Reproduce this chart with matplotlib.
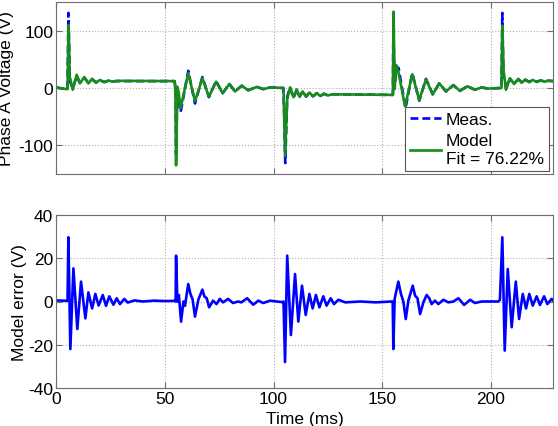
import matplotlib
matplotlib.use("Agg")
import matplotlib.pyplot as plt

plt.rcParams['font.family'] = ['Liberation Sans', 'DejaVu Sans']
plt.rcParams['axes.unicode_minus'] = False

# ---- data ----
model_t = [0, 3, 5.3, 5.8, 6.3, 7.7, 9.5, 11.0, 13.0, 14.9, 16.6, 18.4, 20.2, 22.2, 24.1, 26.0, 28.0,
           54.5, 54.9, 55.2, 55.8, 56.4, 57.3, 60.8, 63.9, 67.3, 70.3, 73.6, 76.6, 79.7, 82.3, 85.4, 88.4,
           92.3, 95.3, 98.4, 104.6, 105.3, 106.3, 107.6, 109.2, 110.7, 112.0, 113.4, 115.0, 116.5, 118.2,
           119.9, 121.5, 123.2, 125.0, 127.0, 154.9, 155.2, 155.7, 156.4, 157.3, 160.5, 163.8, 167.0,
           170.1, 173.2, 176.2, 179.3, 182.7, 185.7, 189.1, 192.6, 195.7, 198.5, 204.8, 205.2, 205.8,
           206.9, 208.7, 210.6, 212.6, 214.1, 215.8, 217.5, 219.2, 221.0, 222.8, 224.6, 226.4, 228.5]
model_v = [1, -1, -2, 110, 20, -3, 23, 8, 19, 8, 16, 9, 14, 10, 13, 11, 12.5,
           12, -5, -135, 2, -8, -35, 26, -23, 17, -15, 11, -9, 7, -6, 4, -4,
           2, -2, 1, 0, -119, -20, 1, -16, -3, -15, -6, -15, -8, -14.5,
           -9, -14, -10, -13, -11, -12, 133, -2, 40, 30, -32, 24, -21,
           15, -11, 8, -6, 5, -5, 3, -3, 1, -1, 0, 109, 30,
           -3, 17, 7, 16, 9, 15, 10, 14, 10.5, 13.5, 11, 13, 12]

meas_t = [0, 3, 5.3, 5.7, 6.4, 7.7, 9.5, 11.0, 13.0, 14.9, 16.6, 18.4, 20.2, 22.2, 24.1, 26.0, 28.0,
          54.5, 55.0, 55.2, 55.8, 57.3, 60.8, 63.9, 67.3, 70.3, 73.6, 76.6, 79.7, 82.3, 85.4, 88.4,
          92.3, 95.3, 98.4, 104.5, 104.9, 105.4, 106.3, 107.6, 109.2, 110.7, 112.0, 113.4, 115.0, 116.5,
          118.2, 119.9, 121.5, 123.2, 125.0, 127.0, 154.9, 155.1, 155.7, 156.5, 157.5, 160.7, 163.8,
          167.0, 170.1, 173.2, 176.2, 179.3, 182.7, 185.7, 189.1, 192.6, 195.7, 198.5, 204.8, 205.2,
          205.7, 206.5, 206.9, 208.7, 210.6, 212.6, 214.1, 215.8, 217.5, 219.2, 221.0, 222.8, 224.6,
          226.4, 228.5]
meas_v = [1, -1, -2, 131, 12, -1, 21, 9, 18, 9, 15, 10, 13.5, 10.5, 12.5, 11.5, 12,
          12, 0, -115, 0, -42, 30, -27, 19, -16, 12, -9, 7, -6, 4, -4,
          2, -2, 1, 0, -40, -131, -15, 1, -17, -3, -15, -6, -15, -8,
          -14.5, -9, -14, -10, -13, -11, -12, 111, 0, 36, 35, -35, 26,
          -22, 16, -11, 8, -6, 5, -5, 3, -3, 1, -1, 0, 131,
          15, 12, 0, 16, 8, 15, 10, 14, 11, 13.5, 11, 13, 11.5,
          12.5, 12]

err_t = [0, 5.3, 5.7, 6.6, 8.0, 9.8, 11.5, 13.5, 14.9, 16.6, 18.1, 19.6, 21.5, 23.0, 24.5, 26.4, 27.9,
         29.4, 31.4, 33.0, 36.0, 40.0, 45.0, 50.0, 54.4,
         55.0, 55.2, 55.8, 56.5, 57.5, 58.6, 59.3, 60.8, 61.8, 62.8, 63.9, 65.5, 67.3, 68.2, 69.3, 70.4,
         72.2, 73.8, 75.3, 76.8, 79.1, 81.4, 83.7, 85.2, 87.9, 90.7, 93.0, 95.3, 98.4, 101.5, 104.2,
         104.6, 105.3, 106.3, 108.0, 109.9, 111.4, 113.1, 114.8, 116.5, 118.0, 119.5, 121.1, 122.9,
         124.4, 126.3, 127.8, 129.8, 133.0, 140.0, 147.0, 154.3,
         154.8, 155.1, 155.7, 157.4, 158.6, 159.7, 160.8, 162.0, 164.0, 165.1, 166.2, 167.4, 168.9,
         170.4, 171.6, 172.7, 174.2, 175.8, 178.1, 180.4, 182.7, 185.0, 187.6, 190.4, 192.6, 195.7,
         199.5, 203.4, 204.1,
         205.2, 206.3, 207.7, 209.5, 211.4, 212.9, 214.6, 216.1, 217.6, 219.2, 221.0, 222.5, 224.4,
         225.9, 227.9, 228.5]
err_v = [0.5, 0.3, 29.7, -22, 15.3, -12.7, 9.2, -7.8, 4.2, -3.2, 3.5, -1.9, 3, -2, 2.4, -1.5, 1.5,
         -1.2, 1.2, -0.5, 0.5, 0, 0.4, 0.2, 0.3,
         0, 21.2, 0, 3, -9.3, 0, -2, 8.1, 3.5, 1, -7, 1, 5.5, 2.4, 1.5, -2.7,
         0.4, -1.2, 1.2, -0.4, 1.2, -0.7, 0, -0.4, 1.5, -1.5, 0.4, -0.7, 0.4, 0, -0.3,
         0, -28, 21.2, -15.5, 12.7, -9.3, 7.3, -6.2, 3.5, -3.2, 3, -2.7, 2.4,
         -1.9, 1.5, -1.2, 0.8, -0.4, 0, -0.4, 0,
         0, -22, 1.2, 9.2, 3.5, 0, -8.1, 0.4, 7.3, 2.7, 1.5, -5.8, -0.4,
         3, 1.5, -1.2, 0.4, -1.2, 0.8, -0.4, 0, 1.5, -1.6, 0.8, -0.7, 0,
         0, 0, 0.8,
         29.7, -22.7, 15, -11.9, 9.2, -8.1, 3.5, -3.2, 3.5, -1.9, 2.4, -1.6, 2.4,
         -1.2, 1.2, 0.5]

fit_pct = 76.22
x_ticks = [0, 50, 100, 150, 200]
top_yticks = [-100, 0, 100]
bot_yticks = [-40, -20, 0, 20, 40]

# ---- figure ----
fig = plt.figure(figsize=(5.58, 4.27), dpi=100)
ax1 = fig.add_axes([56/558, 1 - 175/427, 497/558, 172/427])
ax2 = fig.add_axes([56/558, 1 - 389/427, 497/558, 173/427])

blue = '#0000ff'
green = '#178c17'
edge = '#6e6e6e'

ax1.plot(meas_t, meas_v, linestyle='--', color=blue, linewidth=1.9, dashes=(3, 1.5), label='Meas.')
ax1.plot(model_t, model_v, linestyle='-', color=green, linewidth=1.9,
         label='Model\nFit = %.2f%%' % fit_pct)
ax2.plot(err_t, err_v, color=blue, linewidth=1.9)

ax1.set_xlim(0, 228.5)
ax2.set_xlim(0, 228.5)
ax1.set_ylim(-150, 150)
ax2.set_ylim(-40, 40)
ax1.set_yticks(top_yticks)
ax2.set_yticks(bot_yticks)
for ax in (ax1, ax2):
    ax.set_xticks(x_ticks)
    ax.grid(True, linestyle=':', color='#b0b0b0', linewidth=0.8)
    ax.tick_params(direction='in', top=True, right=True, labelsize=12.5, length=4,
                   color=edge, pad=2)
    for s in ax.spines.values():
        s.set_color(edge)
        s.set_linewidth(0.8)
ax1.set_xticklabels([])

ax1.set_ylabel('Phase A Voltage (V)', fontsize=12.5)
ax2.set_ylabel('Model error (V)', fontsize=12.5)
ax2.set_xlabel('Time (ms)', fontsize=12.5)
ax1.yaxis.set_label_coords((14 - 56) / 497, 0.5)
ax2.yaxis.set_label_coords((27 - 56) / 497, 0.5)
ax2.xaxis.set_label_coords(0.5, (389 - 412) / 173)

leg = ax1.legend(loc='lower right', bbox_to_anchor=((549 - 56) / 497, 3 / 172),
                 fontsize=12.5, frameon=True, fancybox=False, framealpha=1,
                 edgecolor='#555555', handlelength=1.75, handletextpad=0.3,
                 labelspacing=0.35, borderpad=0.3, borderaxespad=0)
leg.get_frame().set_linewidth(0.8)

fig.savefig('out.png', dpi=100)
